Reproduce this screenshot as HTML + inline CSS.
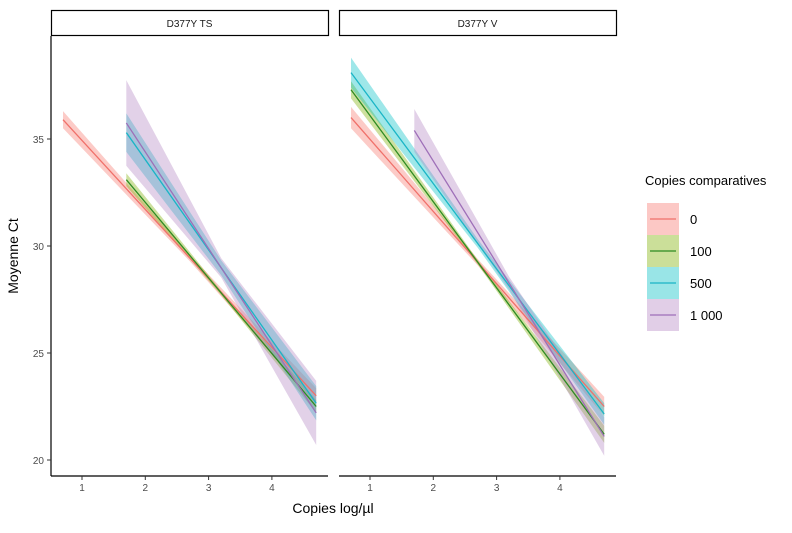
<!DOCTYPE html>
<html><head><meta charset="utf-8"><style>
body{margin:0;background:#fff;font-family:"Liberation Sans",sans-serif}
svg text{font-family:"Liberation Sans",sans-serif}
</style></head><body>
<svg id="chart" width="792" height="528">
<g id="g"></g>
</svg>
<script>
const seriesNames=["0","100","500","1 000"];
const lineColors=["#F0706A","#2E8B22","#1AB5C6","#9E6FB8"];
const fillColors=["#F8766D","#7CAE00","#00BFC4","#B385C2"];
const panels=["D377Y TS","D377Y V"];
const xStartTS=[0.7,1.7,1.7,1.7];
const xStartV=[0.7,0.7,0.7,1.7];
const xEnd=4.7;
const yStartTS=[35.9,33.1,35.3,35.75];
const yEndTS=[23.0,22.5,22.65,22.2];
const yStartV=[36.0,37.3,38.1,35.4];
const yEndV=[22.5,21.2,22.15,21.1];
const seStartTS=[0.4,0.3,0.9,2.0];
const seMidTS=[0.15,0.1,0.35,0.45];
const seEndTS=[0.35,0.3,0.8,1.5];
const seStartV=[0.5,0.4,0.7,1.0];
const seMidV=[0.15,0.1,0.2,0.3];
const seEndV=[0.45,0.4,0.5,0.9];
const yTicks=[20,25,30,35];
const xTicks=[1,2,3,4];

const NS="http://www.w3.org/2000/svg";
const g=document.getElementById('g');
function el(t,a,p){const e=document.createElementNS(NS,t);for(const k in a)e.setAttribute(k,a[k]);(p||g).appendChild(e);return e;}
const panelX0=[51,339],panelW=277,plotTop=36,plotBot=476;
function sx(p,v){return panelX0[p]+31+(v-1)*63.3;}
function sy(v){return 460-(v-20)*21.4;}

const ya=el('g',{});


el('line',{x1:51,y1:plotTop,x2:51,y2:plotBot,stroke:'#000','stroke-width':1.2},ya);
yTicks.forEach(t=>{
 el('line',{x1:47,y1:sy(t),x2:51,y2:sy(t),stroke:'#333'},ya);
 const tx=el('text',{x:44,y:sy(t)+4,'text-anchor':'end','font-size':10,fill:'#4d4d4d'},ya);tx.textContent=t;
 
 
});
const yt=el('text',{x:0,y:0,transform:'translate(18,256) rotate(-90)','text-anchor':'middle','font-size':14,fill:'#000'});
yt.textContent='Moyenne Ct';



panels.forEach((pn,p)=>{
 const x0=panelX0[p];
 const pg=el('g',{});
 
 
 const st=el('rect',{x:x0+0.5,y:10.5,width:panelW,height:25,fill:'#fff',stroke:'#000','stroke-width':1.2},pg);
 
 
 const stt=el('text',{x:x0+panelW/2,y:27,'text-anchor':'middle','font-size':10,fill:'#1a1a1a'},pg);stt.textContent=pn;
 
 
 el('line',{x1:x0,y1:plotBot,x2:x0+panelW,y2:plotBot,stroke:'#000','stroke-width':1.2},pg);
 xTicks.forEach(t=>{
  el('line',{x1:sx(p,t),y1:plotBot,x2:sx(p,t),y2:plotBot+4,stroke:'#333'},pg);
  const tx=el('text',{x:sx(p,t),y:plotBot+15,'text-anchor':'middle','font-size':10,fill:'#4d4d4d'},pg);tx.textContent=t;
  
  
 });
 const xs=p?xStartV:xStartTS;
 const ys=p?yStartV:yStartTS, ye=p?yEndV:yEndTS;
 const s0=p?seStartV:seStartTS, s1=p?seMidV:seMidTS, s2=p?seEndV:seEndTS;
 seriesNames.forEach((n,i)=>{
  const xa=xs[i],xm=(xa+xEnd)/2;
  const f=x=>ys[i]+(ye[i]-ys[i])*(x-xa)/(xEnd-xa);
  const pts=[[xa,s0[i]],[xm,s1[i]],[xEnd,s2[i]]];
  let up=pts.map(q=>sx(p,q[0])+','+sy(f(q[0])+q[1]));
  let dn=pts.slice().reverse().map(q=>sx(p,q[0])+','+sy(f(q[0])-q[1]));
  const r=el('polygon',{points:up.concat(dn).join(' '),fill:fillColors[i],'fill-opacity':0.38},pg);
  
  
 });
 seriesNames.forEach((n,i)=>{
  const l=el('line',{x1:sx(p,xs[i]),y1:sy(ys[i]),x2:sx(p,xEnd),y2:sy(ye[i]),stroke:lineColors[i],'stroke-width':1.3},pg);
  
  
 });
});
const xt=el('text',{x:333,y:513,'text-anchor':'middle','font-size':14,fill:'#000'});
xt.textContent='Copies log/µl';



const lg=el('g',{});


const lt=el('text',{x:645,y:185,'font-size':13,fill:'#000'},lg);lt.textContent='Copies comparatives';


seriesNames.forEach((n,i)=>{
 const cy=219+i*32;
 const e=el('g',{},lg);
 
 
 el('rect',{x:647,y:cy-16,width:32,height:32,fill:fillColors[i],'fill-opacity':0.4},e);
 el('line',{x1:650,y1:cy,x2:676,y2:cy,stroke:lineColors[i],'stroke-width':1.3},e);
 const t=el('text',{x:690,y:cy+5,'font-size':13,fill:'#000'},e);t.textContent=n;
});
</script>
</body></html>
